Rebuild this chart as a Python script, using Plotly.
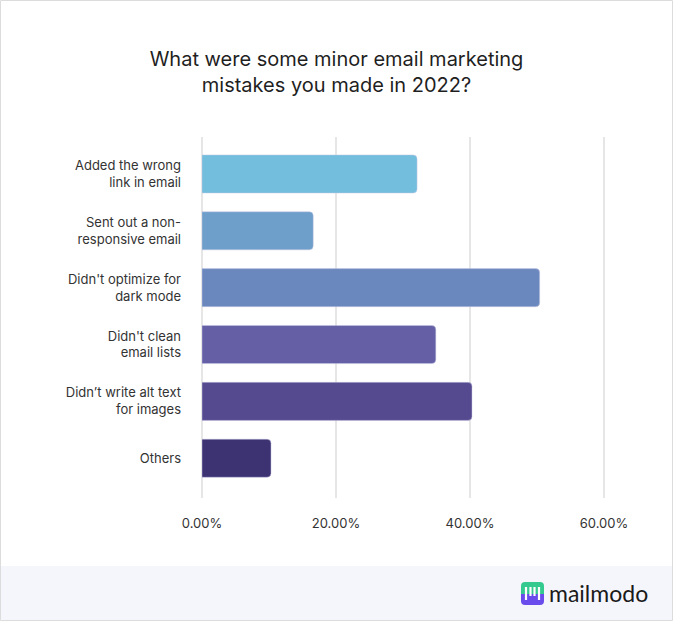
import plotly.graph_objects as go

categories = [
    "Added the wrong<br>link in email",
    "Sent out a non-<br>responsive email",
    "Didn't optimize for<br>dark mode",
    "Didn't clean<br>email lists",
    "Didn’t write alt text<br>for images",
    "Others",
]
values = [32.1, 16.6, 50.4, 34.9, 40.3, 10.3]
bar_colors = ["#74BEDD", "#6E9FCA", "#6B88BE", "#6560A6", "#554A8F", "#3D3373"]
tick_vals = [0, 20, 40, 60]
tick_text = ["0.00%", "20.00%", "40.00%", "60.00%"]
title_text = "What were some minor email marketing<br>mistakes you made in 2022?"
brand = "mailmodo"

W, H = 673, 621
L, R, T, B = 202, 67, 137, 123
PW, PH = W - L - R, H - T - B


def px(x):
    return (x - L) / PW


def py(y):
    return (H - B - y) / PH


fig = go.Figure(
    go.Bar(
        x=values,
        y=categories,
        orientation="h",
        marker=dict(color=bar_colors, cornerradius=4,
                    line=dict(color="rgba(200,200,230,0.6)", width=0.8)),
        hoverinfo="skip",
    )
)

shapes = [
    # footer band
    dict(type="rect", xref="paper", yref="paper", x0=px(1), x1=px(672), y0=py(566), y1=py(620),
         fillcolor="#F5F6FC", line=dict(width=0), layer="below"),
    # outer border
    dict(type="rect", xref="paper", yref="paper", x0=px(0.5), x1=px(672.5), y0=py(0.5), y1=py(620.5),
         fillcolor="rgba(0,0,0,0)", line=dict(color="#DCDCDC", width=1), layer="above"),
]

# logo icon (rounded square, green top, purple bottom)
x0, x1, y0, ym, y1, r = 521, 544, 582, 594, 605, 4
top_path = (f"M {px(x0)},{py(ym)} L {px(x0)},{py(y0 + r)} Q {px(x0)},{py(y0)} {px(x0 + r)},{py(y0)} "
            f"L {px(x1 - r)},{py(y0)} Q {px(x1)},{py(y0)} {px(x1)},{py(y0 + r)} L {px(x1)},{py(ym)} Z")
bot_path = (f"M {px(x0)},{py(ym)} L {px(x0)},{py(y1 - r)} Q {px(x0)},{py(y1)} {px(x0 + r)},{py(y1)} "
            f"L {px(x1 - r)},{py(y1)} Q {px(x1)},{py(y1)} {px(x1)},{py(y1 - r)} L {px(x1)},{py(ym)} Z")
shapes.append(dict(type="path", xref="paper", yref="paper", path=top_path,
                   fillcolor="#33C98F", line=dict(width=0)))
shapes.append(dict(type="path", xref="paper", yref="paper", path=bot_path,
                   fillcolor="#6A4BEB", line=dict(width=0)))
for lx, ly0, ly1 in [(526, 587, 600), (530.5, 587, 596), (534.5, 587, 596), (539, 587, 600)]:
    shapes.append(dict(type="line", xref="paper", yref="paper", x0=px(lx), x1=px(lx),
                       y0=py(ly0), y1=py(ly1), line=dict(color="white", width=2.2)))

fig.update_layout(
    width=W,
    height=H,
    margin=dict(l=L, r=R, t=T, b=B, pad=0),
    paper_bgcolor="white",
    plot_bgcolor="white",
    showlegend=False,
    bargap=0.33,
    font=dict(family="Inter, Roboto, sans-serif", color="#333333", size=13),
    title=dict(text=title_text, x=0.5, xanchor="center", y=1 - 66 / H, yanchor="middle",
               font=dict(size=20, color="#1F1F1F", family="Inter, Roboto, sans-serif")),
    xaxis=dict(range=[0, 60.3], tickvals=tick_vals, ticktext=tick_text,
               showgrid=True, gridcolor="#E6E6E6", gridwidth=2,
               zeroline=True, zerolinecolor="#E6E6E6", zerolinewidth=2,
               showline=False, ticks="", ticklabelstandoff=16,
               tickfont=dict(size=13, color="#333333")),
    yaxis=dict(type="category", categoryorder="array", categoryarray=categories,
               range=[5.7, -0.65], showgrid=False, zeroline=False, showline=False,
               ticks="", ticklabelstandoff=20, tickfont=dict(size=13, color="#333333")),
    shapes=shapes,
    annotations=[
        dict(text=brand, xref="paper", yref="paper", x=px(547), y=py(593),
             xanchor="left", yanchor="middle", showarrow=False,
             font=dict(size=23, color="#1A1A1A", family="Lato, Noto Sans, sans-serif")),
    ],
)

fig.write_html("out.html", config={"displayModeBar": False},
               post_script="document.body.style.margin='0';")
